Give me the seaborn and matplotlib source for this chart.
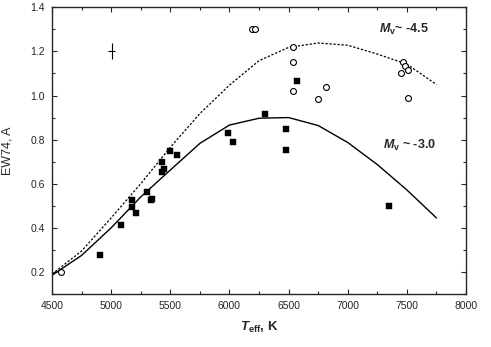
import numpy as np
import pandas as pd
import seaborn as sns
import matplotlib.pyplot as plt
from matplotlib.ticker import MultipleLocator

# model curves (Teff, EW74)
teff_grid = [4500, 4750, 5000, 5250, 5500, 5750, 6000, 6250, 6500, 6750, 7000, 7250, 7500, 7750]
ew_mv30 = [0.185, 0.275, 0.40, 0.54, 0.662, 0.783, 0.866, 0.897, 0.900, 0.864, 0.787, 0.687, 0.572, 0.445]
ew_mv45 = [0.19, 0.295, 0.445, 0.60, 0.765, 0.918, 1.047, 1.158, 1.218, 1.238, 1.228, 1.188, 1.142, 1.05]

# filled squares
sq_teff = [4906, 5083, 5175, 5180, 5210, 5306, 5335, 5345, 5430, 5450, 5430, 5500, 5560,
           5990, 6030, 6300, 6480, 6480, 6570, 7350]
sq_ew = [0.277, 0.413, 0.525, 0.495, 0.469, 0.561, 0.525, 0.53, 0.70, 0.669, 0.651, 0.748, 0.729,
         0.831, 0.787, 0.915, 0.846, 0.751, 1.065, 0.499]

# open circles
oc_teff = [4576, 6193, 6213, 6535, 6535, 6535, 6746, 6816, 7467, 7481, 7450, 7507, 7507]
oc_ew = [0.20, 1.301, 1.301, 1.220, 1.152, 1.021, 0.982, 1.040, 1.152, 1.134, 1.103, 1.114, 0.987]

# typical error
err_teff, err_ew = 5005, 1.203
err_dt, err_dew = 30, 0.036

sns.set_style('ticks')
plt.rcParams['font.family'] = ['Liberation Sans', 'DejaVu Sans']
plt.rcParams['mathtext.fontset'] = 'custom'
plt.rcParams['mathtext.rm'] = 'Liberation Sans'
plt.rcParams['mathtext.it'] = 'Liberation Sans:italic'
plt.rcParams['mathtext.bf'] = 'Liberation Sans:bold'
plt.rcParams['mathtext.bfit'] = 'Liberation Sans:italic:bold'

curves = pd.DataFrame({'teff': teff_grid, 'mv30': ew_mv30, 'mv45': ew_mv45})

fig = plt.figure(figsize=(4.91, 3.47), dpi=100)
ax = fig.add_axes([0.1059, 0.1527, 0.8432, 0.8263])

sns.lineplot(data=curves, x='teff', y='mv30', color='black', lw=1.0, ax=ax)
sns.lineplot(data=curves, x='teff', y='mv45', color='black', lw=0.9, ax=ax,
             linestyle=(0, (1.8, 1.4)))
sns.scatterplot(x=sq_teff, y=sq_ew, marker='s', s=22, color='black', edgecolor='black',
                linewidth=0.3, ax=ax, zorder=3)
sns.scatterplot(x=oc_teff, y=oc_ew, marker='o', s=18, facecolor='white', edgecolor='black',
                linewidth=0.8, ax=ax, zorder=3)
ax.errorbar([err_teff], [err_ew], xerr=err_dt, yerr=err_dew, fmt='none', ecolor='black',
            elinewidth=0.8, capsize=0)

ax.text(7262, 1.285, r'$\mathbfit{M}_{\mathbf{v}}$~ -4.5', fontsize=9, fontweight='bold')
ax.text(7298, 0.76, r'$\mathbfit{M}_{\mathbf{v}}$ ~ -3.0', fontsize=9, fontweight='bold')

ax.set_xlim(4500, 8000)
ax.set_ylim(0.1, 1.4)
ax.xaxis.set_major_locator(MultipleLocator(500))
ax.xaxis.set_minor_locator(MultipleLocator(250))
ax.yaxis.set_major_locator(MultipleLocator(0.2))
ax.yaxis.set_minor_locator(MultipleLocator(0.1))
ax.set_yticks([0.2, 0.4, 0.6, 0.8, 1.0, 1.2, 1.4])
ax.tick_params(which='both', direction='in', top=True, right=True, labelsize=7.5, width=0.8)
ax.tick_params(which='major', length=3.5, pad=5)
ax.tick_params(which='minor', length=2)
for sp in ax.spines.values():
    sp.set_linewidth(1.0)

ax.set_xlabel(r'$\mathbfit{T}_{\mathbf{eff}}$, K', fontsize=9.5, fontweight='bold')
ax.set_ylabel('EW74, A', fontsize=9)
ax.xaxis.set_label_coords(0.5, -0.092)
ax.yaxis.set_label_coords(-0.092, 0.5)

fig.savefig('out.png', dpi=100)
